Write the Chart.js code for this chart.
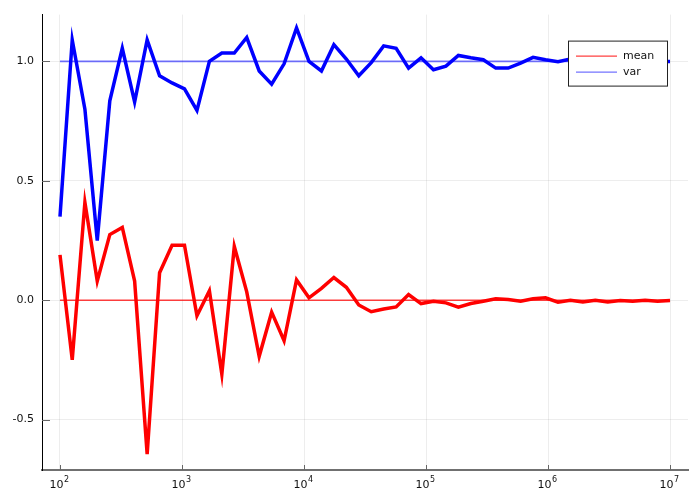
<!DOCTYPE html>
<html>
<head>
<meta charset="utf-8">
<script src="https://cdn.jsdelivr.net/npm/chart.js@4"></script>
<style>
  html, body { margin: 0; padding: 0; background: #fff; }
  #wrap { width: 700px; height: 500px; }
</style>
</head>
<body>
<div id="wrap"><canvas id="chart" width="700" height="500"></canvas></div>
<script>
// sample sizes, log spaced from 1e2 to 1e7 (50 points)
const sampleSizes = [
  100, 126, 160, 202, 256, 324, 409, 518, 655, 829,
  1048, 1326, 1677, 2121, 2683, 3393, 4292, 5429, 6866, 8685,
  10985, 13895, 17575, 22230, 28118, 35565, 44984, 56899, 71969, 91030,
  115140, 145635, 184207, 232995, 294705, 372759, 471487, 596362, 754312, 954095,
  1206793, 1526418, 1930698, 2442053, 3088844, 3906940, 4941713, 6250552, 7906043, 10000000
];

// estimated mean (red, thick)
const meanEstimates = [
  0.19, -0.25, 0.41, 0.08, 0.275, 0.305, 0.08, -0.645, 0.115, 0.23,
  0.23, -0.065, 0.04, -0.31, 0.225, 0.035, -0.235, -0.05, -0.17, 0.085,
  0.01, 0.05, 0.095, 0.054, -0.02, -0.048, -0.037, -0.028, 0.024, -0.014,
  -0.004, -0.011, -0.029, -0.014, -0.004, 0.006, 0.003, -0.004, 0.006, 0.01,
  -0.008, 0.0, -0.007, 0.0, -0.007, -0.001, -0.004, 0.0, -0.004, -0.001
];

// estimated variance (blue, thick)
const varEstimates = [
  0.35, 1.09, 0.80, 0.25, 0.835, 1.055, 0.83, 1.09, 0.94, 0.91,
  0.885, 0.795, 1.0, 1.035, 1.035, 1.10, 0.96, 0.905, 0.99, 1.14,
  1.0, 0.96, 1.07, 1.01, 0.94, 0.995, 1.065, 1.055, 0.972, 1.015,
  0.965, 0.98, 1.025, 1.015, 1.007, 0.972, 0.972, 0.993, 1.017, 1.007,
  0.999, 1.01, 1.004, 0.997, 1.003, 1.001, 0.996, 1.002, 1.0, 1.0
];

// true values, drawn as thin reference lines
const lineEnds = [100, 10000000];
const trueMean = [0, 0];
const trueVar = [1, 1];

const xTicks = [1e2, 1e3, 1e4, 1e5, 1e6, 1e7];
const yTicks = [-0.5, 0.0, 0.5, 1.0];

function toPoints(xs, ys) {
  return xs.map((x, i) => ({ x: x, y: ys[i] }));
}

Chart.defaults.font.family = "'DejaVu Sans', sans-serif";
Chart.defaults.font.size = 11;
Chart.defaults.color = "#111";

//--------------------------------------------------------
// tick marks inside the plot area + "10^n" labels with a real superscript
const gaxis = {
  id: "gaxis",
  beforeDatasetsDraw(chart) {
    const ctx = chart.ctx;
    const a = chart.chartArea;
    const xs = chart.scales.x, ys = chart.scales.y;
    ctx.save();
    ctx.strokeStyle = "#666";
    ctx.lineWidth = 1;
    ctx.beginPath();
    xTicks.forEach((t) => {
      const px = Math.round(xs.getPixelForValue(t)) + 0.5;
      ctx.moveTo(px, a.bottom);
      ctx.lineTo(px, a.bottom - 5);
    });
    yTicks.forEach((t) => {
      const py = Math.round(ys.getPixelForValue(t)) + 0.5;
      ctx.moveTo(a.left, py);
      ctx.lineTo(a.left + 8, py);
    });
    ctx.stroke();
    ctx.restore();
  },
  afterDraw(chart) {
    const ctx = chart.ctx;
    const a = chart.chartArea;
    const xs = chart.scales.x;
    ctx.save();
    ctx.fillStyle = "#111";
    ctx.textBaseline = "alphabetic";
    ctx.textAlign = "left";
    xTicks.forEach((t) => {
      const px = xs.getPixelForValue(t);
      const base = "10";
      const exp = String(Math.round(Math.log10(t)));
      ctx.font = "11px 'DejaVu Sans', sans-serif";
      const wb = ctx.measureText(base).width;
      ctx.font = "8px 'DejaVu Sans', sans-serif";
      const we = ctx.measureText(exp).width;
      const x0 = px - (wb + we) / 2 - 1;
      ctx.font = "11px 'DejaVu Sans', sans-serif";
      ctx.fillText(base, x0, a.bottom + 18);
      ctx.font = "8px 'DejaVu Sans', sans-serif";
      ctx.fillText(exp, x0 + wb + 0.5, a.bottom + 12);
    });
    ctx.restore();
  },
};

//--------------------------------------------------------
// boxed legend in the upper right corner
const boxLegend = {
  id: "boxLegend",
  afterDraw(chart) {
    const ctx = chart.ctx;
    const a = chart.chartArea;
    const items = chart.data.datasets.filter((d) => d.inLegend);
    const w = 99, h = 45;
    const x0 = a.right - 21 - w, y0 = a.top + 26;
    ctx.save();
    ctx.fillStyle = "#fff";
    ctx.fillRect(x0, y0, w, h);
    ctx.strokeStyle = "#222";
    ctx.lineWidth = 1;
    ctx.strokeRect(x0 + 0.5, y0 + 0.5, w, h);
    ctx.font = "11px 'DejaVu Sans', sans-serif";
    ctx.textBaseline = "middle";
    items.forEach((d, i) => {
      const y = y0 + 15.5 + i * 16;
      ctx.strokeStyle = d.borderColor;
      ctx.lineWidth = 1.3;
      ctx.beginPath();
      ctx.moveTo(x0 + 8, y);
      ctx.lineTo(x0 + 49, y);
      ctx.stroke();
      ctx.fillStyle = "#111";
      ctx.fillText(d.label, x0 + 55, y);
    });
    ctx.restore();
  },
};

const datasets = [
  {
    label: "mean",
    inLegend: true,
    data: toPoints(lineEnds, trueMean),
    borderColor: "rgba(255,0,0,0.75)",
    borderWidth: 1.4,
    order: 6,
  },
  {
    label: "var",
    inLegend: true,
    data: toPoints(lineEnds, trueVar),
    borderColor: "rgba(0,0,255,0.55)",
    borderWidth: 1.8,
    order: 5,
  },
  {
    label: "mean estimate",
    data: toPoints(sampleSizes, meanEstimates),
    borderColor: "#ff0000",
    borderWidth: 3.5,
    order: 2,
  },
  {
    label: "var estimate",
    data: toPoints(sampleSizes, varEstimates),
    borderColor: "#0000ff",
    borderWidth: 3.5,
    order: 3,
  },
];

const ctx = document.getElementById("chart");
new Chart(ctx, {
  type: "line",
  data: { datasets: datasets },
  options: {
    responsive: false,
    devicePixelRatio: 1,
    animation: false,
    layout: { padding: { top: 12, right: 12, left: 0, bottom: 0 } },
    elements: {
      point: { radius: 0, hoverRadius: 0 },
      line: { tension: 0, borderJoinStyle: "miter", fill: false },
    },
    plugins: {
      legend: { display: false },
      tooltip: { enabled: false },
    },
    scales: {
      x: {
        type: "logarithmic",
        min: 71.2,
        max: 1.404e7,
        afterBuildTicks: (s) => {
          s.ticks = xTicks.map((v) => ({ value: v, major: true }));
        },
        afterFit: (s) => {
          s.height = 30;
        },
        ticks: { display: false },
        grid: { color: "rgba(0,0,0,0.07)", drawTicks: false },
        border: { display: true, color: "#707070", width: 2 },
      },
      y: {
        type: "linear",
        min: -0.711,
        max: 1.196,
        afterBuildTicks: (s) => {
          s.ticks = yTicks.map((v) => ({ value: v }));
        },
        afterFit: (s) => {
          s.width = 42;
        },
        ticks: {
          padding: 8,
          callback: (v) => v.toFixed(1),
        },
        grid: { color: "rgba(0,0,0,0.07)", drawTicks: false },
        border: { display: true, color: "#000", width: 1 },
      },
    },
  },
  plugins: [gaxis, boxLegend],
});
</script>
</body>
</html>
